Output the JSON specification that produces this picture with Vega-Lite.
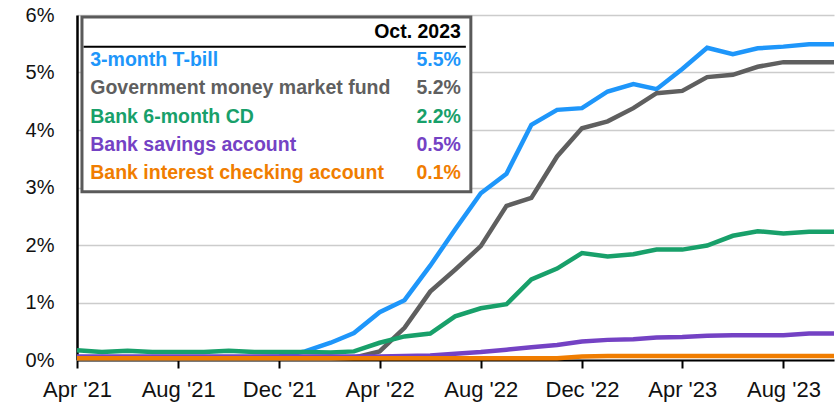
{
  "$schema": "https://vega.github.io/schema/vega-lite/v6.json",
  "width": 757,
  "height": 345,
  "autosize": {"type": "none"},
  "padding": {"left": 77, "top": 15, "right": 6, "bottom": 44},
  "background": "white",
  "config": {"view": {"stroke": null}, "font": "Liberation Sans"},
  "datasets": {
    "rates": [
      {"date": "2021-04-01", "tbill": 0.02, "mmf": 0.02, "cd": 0.17, "sav": 0.06, "chk": 0.03},
      {"date": "2021-05-01", "tbill": 0.02, "mmf": 0.02, "cd": 0.14, "sav": 0.06, "chk": 0.03},
      {"date": "2021-06-01", "tbill": 0.04, "mmf": 0.02, "cd": 0.16, "sav": 0.06, "chk": 0.03},
      {"date": "2021-07-01", "tbill": 0.05, "mmf": 0.02, "cd": 0.14, "sav": 0.06, "chk": 0.03},
      {"date": "2021-08-01", "tbill": 0.05, "mmf": 0.02, "cd": 0.14, "sav": 0.06, "chk": 0.03},
      {"date": "2021-09-01", "tbill": 0.04, "mmf": 0.02, "cd": 0.14, "sav": 0.06, "chk": 0.03},
      {"date": "2021-10-01", "tbill": 0.05, "mmf": 0.02, "cd": 0.16, "sav": 0.06, "chk": 0.03},
      {"date": "2021-11-01", "tbill": 0.05, "mmf": 0.02, "cd": 0.14, "sav": 0.06, "chk": 0.03},
      {"date": "2021-12-01", "tbill": 0.06, "mmf": 0.02, "cd": 0.14, "sav": 0.06, "chk": 0.03},
      {"date": "2022-01-01", "tbill": 0.15, "mmf": 0.02, "cd": 0.14, "sav": 0.06, "chk": 0.03},
      {"date": "2022-02-01", "tbill": 0.30, "mmf": 0.02, "cd": 0.13, "sav": 0.06, "chk": 0.03},
      {"date": "2022-03-01", "tbill": 0.47, "mmf": 0.04, "cd": 0.15, "sav": 0.06, "chk": 0.03},
      {"date": "2022-04-01", "tbill": 0.83, "mmf": 0.15, "cd": 0.30, "sav": 0.06, "chk": 0.03},
      {"date": "2022-05-01", "tbill": 1.04, "mmf": 0.56, "cd": 0.41, "sav": 0.07, "chk": 0.03},
      {"date": "2022-06-01", "tbill": 1.64, "mmf": 1.19, "cd": 0.46, "sav": 0.08, "chk": 0.03},
      {"date": "2022-07-01", "tbill": 2.27, "mmf": 1.57, "cd": 0.76, "sav": 0.11, "chk": 0.03},
      {"date": "2022-08-01", "tbill": 2.90, "mmf": 1.98, "cd": 0.90, "sav": 0.14, "chk": 0.03},
      {"date": "2022-09-01", "tbill": 3.24, "mmf": 2.68, "cd": 0.97, "sav": 0.18, "chk": 0.03},
      {"date": "2022-10-01", "tbill": 4.09, "mmf": 2.82, "cd": 1.40, "sav": 0.22, "chk": 0.03},
      {"date": "2022-11-01", "tbill": 4.35, "mmf": 3.54, "cd": 1.59, "sav": 0.26, "chk": 0.03},
      {"date": "2022-12-01", "tbill": 4.38, "mmf": 4.03, "cd": 1.86, "sav": 0.32, "chk": 0.06},
      {"date": "2023-01-01", "tbill": 4.67, "mmf": 4.15, "cd": 1.80, "sav": 0.35, "chk": 0.07},
      {"date": "2023-02-01", "tbill": 4.80, "mmf": 4.38, "cd": 1.84, "sav": 0.36, "chk": 0.07},
      {"date": "2023-03-01", "tbill": 4.71, "mmf": 4.64, "cd": 1.92, "sav": 0.39, "chk": 0.07},
      {"date": "2023-04-01", "tbill": 5.06, "mmf": 4.68, "cd": 1.92, "sav": 0.40, "chk": 0.07},
      {"date": "2023-05-01", "tbill": 5.43, "mmf": 4.92, "cd": 1.99, "sav": 0.42, "chk": 0.07},
      {"date": "2023-06-01", "tbill": 5.32, "mmf": 4.96, "cd": 2.16, "sav": 0.43, "chk": 0.07},
      {"date": "2023-07-01", "tbill": 5.42, "mmf": 5.10, "cd": 2.24, "sav": 0.43, "chk": 0.07},
      {"date": "2023-08-01", "tbill": 5.45, "mmf": 5.18, "cd": 2.20, "sav": 0.43, "chk": 0.07},
      {"date": "2023-09-01", "tbill": 5.49, "mmf": 5.18, "cd": 2.23, "sav": 0.46, "chk": 0.07},
      {"date": "2023-10-01", "tbill": 5.49, "mmf": 5.18, "cd": 2.23, "sav": 0.46, "chk": 0.07}
    ],
    "table": [
      {"series": "header", "label": "Oct. 2023", "value": ""},
      {"series": "tbill", "label": "3-month T-bill", "value": "5.5%"},
      {"series": "mmf", "label": "Government money market fund", "value": "5.2%"},
      {"series": "cd", "label": "Bank 6-month CD", "value": "2.2%"},
      {"series": "sav", "label": "Bank savings account", "value": "0.5%"},
      {"series": "chk", "label": "Bank interest checking account", "value": "0.1%"}
    ]
  },
  "layer": [
    {
      "layer": [
        {
          "data": {"name": "rates"},
          "transform": [{"fold": ["tbill", "mmf", "cd", "sav", "chk"], "as": ["series", "rate"]}],
          "mark": {"type": "line", "strokeWidth": 4.5},
          "encoding": {
            "x": {
              "field": "date",
              "type": "temporal",
              "scale": {
                "type": "utc",
                "domain": [
                  {"year": 2021, "month": 4, "date": 1, "utc": true},
                  {"year": 2023, "month": 10, "date": 1, "utc": true}
                ]
              },
              "axis": {
                "title": null,
                "values": [
                  {"year": 2021, "month": 4, "date": 1, "utc": true},
                  {"year": 2021, "month": 8, "date": 1, "utc": true},
                  {"year": 2021, "month": 12, "date": 1, "utc": true},
                  {"year": 2022, "month": 4, "date": 1, "utc": true},
                  {"year": 2022, "month": 8, "date": 1, "utc": true},
                  {"year": 2022, "month": 12, "date": 1, "utc": true},
                  {"year": 2023, "month": 4, "date": 1, "utc": true},
                  {"year": 2023, "month": 8, "date": 1, "utc": true}
                ],
                "format": "%b '%y",
                "grid": false,
                "labelFontSize": 22,
                "labelColor": "#111111",
                "labelFlush": false,
                "labelOverlap": false,
                "labelPadding": 11,
                "domainColor": "black",
                "domainWidth": 2,
                "tickColor": "black",
                "tickWidth": 2,
                "tickSize": 8
              }
            },
            "y": {
              "field": "rate",
              "type": "quantitative",
              "scale": {"domain": [0, 6], "nice": false},
              "axis": {
                "title": null,
                "values": [0, 1, 2, 3, 4, 5, 6],
                "labelExpr": "datum.value + '%'",
                "labelFontSize": 20,
                "labelColor": "#111111",
                "labelPadding": 23,
                "ticks": false,
                "domainColor": "black",
                "domainWidth": 2.5,
                "gridColor": "#cccccc",
                "gridWidth": 1.5
              }
            },
            "color": {
              "field": "series",
              "type": "nominal",
              "scale": {
                "domain": ["tbill", "mmf", "cd", "sav", "chk"],
                "range": ["#1E96FA", "#5F5F5F", "#18A06A", "#7442C4", "#F07D00"]
              },
              "legend": null
            }
          }
        },
        {
          "data": {"values": [{}]},
          "mark": {"type": "rect", "fill": "white", "stroke": "#5a5a5a", "strokeWidth": 3},
          "encoding": {
            "x": {"datum": {"year": 2021, "month": 4, "date": 7, "utc": true}, "type": "temporal"},
            "x2": {"datum": {"year": 2022, "month": 7, "date": 20, "utc": true}},
            "y": {"datum": 5.965, "type": "quantitative"},
            "y2": {"datum": 2.927}
          }
        },
        {
          "data": {"values": [{}]},
          "mark": {"type": "rule", "color": "black", "strokeWidth": 2},
          "encoding": {
            "x": {"datum": {"year": 2021, "month": 4, "date": 9, "utc": true}, "type": "temporal"},
            "x2": {"datum": {"year": 2022, "month": 7, "date": 14, "utc": true}},
            "y": {"datum": 5.449, "type": "quantitative"}
          }
        }
      ]
    },
    {
      "data": {"name": "table"},
      "encoding": {
        "y": {
          "field": "series",
          "type": "nominal",
          "scale": {
            "type": "point",
            "domain": ["header", "tbill", "mmf", "cd", "sav", "chk"],
            "range": [16.7, 158.3],
            "padding": 0
          },
          "axis": null
        }
      },
      "layer": [
        {
          "transform": [{"filter": "datum.series != 'header'"}],
          "mark": {"type": "text", "align": "left", "baseline": "middle", "fontSize": 19.5, "fontWeight": "bold"},
          "encoding": {
            "x": {"datum": {"year": 2021, "month": 4, "date": 17, "utc": true}, "type": "temporal"},
            "text": {"field": "label"},
            "color": {"field": "series", "type": "nominal", "legend": null}
          }
        },
        {
          "transform": [{"filter": "datum.series != 'header'"}],
          "mark": {"type": "text", "align": "right", "baseline": "middle", "fontSize": 19.5, "fontWeight": "bold"},
          "encoding": {
            "x": {"datum": {"year": 2022, "month": 7, "date": 8, "utc": true}, "type": "temporal"},
            "text": {"field": "value"},
            "color": {"field": "series", "type": "nominal", "legend": null}
          }
        },
        {
          "transform": [{"filter": "datum.series == 'header'"}],
          "mark": {"type": "text", "align": "right", "baseline": "middle", "fontSize": 19.5, "fontWeight": "bold", "color": "black"},
          "encoding": {
            "x": {"datum": {"year": 2022, "month": 7, "date": 8, "utc": true}, "type": "temporal"},
            "text": {"field": "label"}
          }
        }
      ]
    }
  ],
  "resolve": {"scale": {"y": "independent"}}
}
